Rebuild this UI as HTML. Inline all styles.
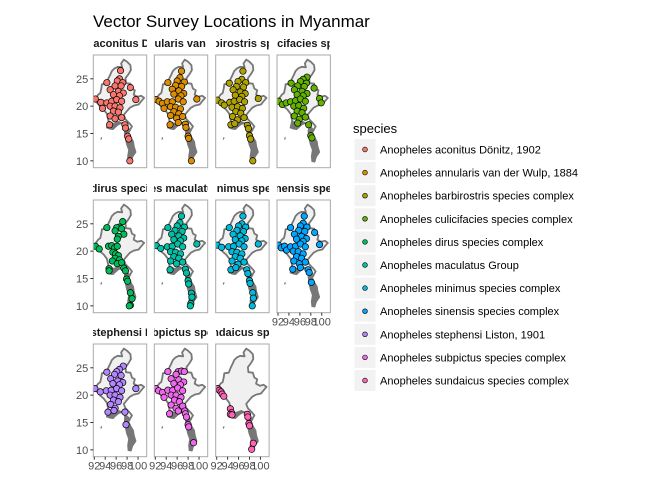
<!DOCTYPE html>
<html><head><meta charset="utf-8"><style>
body{margin:0;background:#fff;}
svg{display:block;font-family:"Liberation Sans",Arial,sans-serif;}
</style></head><body>
<svg id="chart" width="672" height="480" viewBox="0 0 672 480" xmlns="http://www.w3.org/2000/svg">
<text x="93" y="27" font-size="17" fill="#000">Vector Survey Locations in Myanmar</text>
<g id="panels"></g>
<g id="legend"></g>
</svg>
<script>
const speciesNames = ["Anopheles aconitus Dönitz, 1902","Anopheles annularis van der Wulp, 1884","Anopheles barbirostris species complex","Anopheles culicifacies species complex","Anopheles dirus species complex","Anopheles maculatus Group","Anopheles minimus species complex","Anopheles sinensis species complex","Anopheles stephensi Liston, 1901","Anopheles subpictus species complex","Anopheles sundaicus species complex"];
const speciesColors = ["#F8766D","#DB8E00","#AEA200","#64B200","#00BD5C","#00C1A7","#00BADE","#00A6FF","#B385FF","#EF67EB","#FF63B6"];
const yTicks = [10,15,20,25];
const xTicks = [92,94,96,98,100];
const aconitus = [[96.8,26.5],[94.3,24.3],[96.6,25],[96.2,24.6],[97.2,24.3],[95.8,23.7],[96.9,23.7],[98.6,23.4],[94.9,23],[96.4,22.7],[97.3,22.4],[95.5,22.1],[96.6,21.9],[99.6,21.2],[92.2,21.3],[93.2,20.7],[94.3,20.6],[95.2,20.9],[96.1,21.2],[97,20.9],[93.5,19.6],[94.9,20],[95.8,20],[96.7,19.7],[95.5,19.1],[96.4,18.9],[94.9,18.2],[95.8,17.7],[97,17.9],[94.8,16.6],[97.6,16.6],[97.7,16],[98.1,14.5],[98.3,14],[98.5,10]];
const annularis = [[96.8,26.4],[94.3,24.3],[96.5,25.2],[96,24.6],[97.3,24.4],[95.7,23.8],[96.8,23.6],[95.1,23.1],[96.3,22.8],[97.2,22.3],[95.4,22.2],[96.7,21.9],[99.6,21.3],[92.1,21.2],[92.7,20.9],[93.3,20.5],[94.2,20.8],[95.1,20.8],[96.2,21.3],[97.1,20.8],[93.6,19.6],[94.8,19.9],[95.7,19.8],[96.6,19.5],[95.4,19],[96.3,18.6],[94.8,18.3],[95.9,17.8],[97,18.1],[94.7,16.6],[96.2,17],[97.5,16.7],[97.6,16.1],[98,14.5],[98.1,14.1],[98.6,10]];
const barbirostris = [[96.8,26.4],[94.3,24.2],[96.6,24.9],[95.9,24.5],[97.3,24.3],[95.6,23.6],[96.9,23.5],[95,23],[96.3,22.6],[97.2,22.3],[95.4,22],[96.6,21.8],[99.6,21.4],[92.1,21.1],[92.9,20.6],[93.4,20.2],[94.4,20.7],[95.2,20.9],[96.2,21.2],[97.1,20.8],[94.8,19.8],[95.8,19.9],[96.7,19.6],[95.5,19],[96.4,18.7],[94.9,18.1],[95.8,17.5],[97,17.9],[94.6,16.6],[95.3,16.8],[97.6,16.5],[97.8,15.9],[98,14.6],[98.2,14],[98.6,10]];
const culicifacies = [[97.3,25.3],[94.4,24.2],[96.6,24.9],[96.1,24.5],[97.2,24.2],[95.6,23.7],[96.8,23.6],[95,23],[96.4,22.7],[97.3,22.3],[98.6,23.3],[95.5,22.1],[96.6,21.9],[99.6,21.4],[99.9,20.6],[92.1,20.9],[92.8,20.3],[93.5,20.6],[94.3,20.8],[95.2,21],[96.1,21.3],[97,20.9],[94.9,20],[95.8,20.1],[96.7,19.6],[95.5,19.1],[96.4,18.8],[95,18.2],[95.9,17.6],[97,18],[95.6,16.9],[97.6,16.6],[98,14.6],[98.2,14.2]];
const dirus = [[97.2,25.4],[94.3,24.3],[96.6,24.4],[96.1,24.3],[97,24.1],[95.8,23.7],[97.4,23.1],[96.4,22.7],[96.2,22.2],[92.2,20.9],[92.9,20.4],[94.6,20.9],[95.2,21],[95.7,20.6],[96.2,20.9],[95.4,19.8],[95.9,19.5],[96.4,19.2],[95.8,18.7],[96.6,18.4],[95.3,18.2],[96.2,17.7],[97,17.9],[94.7,16.8],[94.7,16.4],[97.4,16.9],[97.7,16.4],[97.9,14.9],[98.1,14.5],[98.6,12.4],[98.9,11.3],[98.6,10.1],[98.4,10]];
const maculatus = [[96.8,26.4],[94.3,24.3],[96.5,25.2],[96,24.6],[97.3,24.4],[95.6,23.8],[96.9,23.6],[95,23.1],[96.3,22.8],[97.2,22.4],[95.4,22.1],[96.6,21.9],[99.6,21.3],[92.2,21],[93,20.5],[94.2,20.8],[95.1,20.9],[96.1,21.3],[97,20.8],[94.8,19.9],[95.7,19.8],[96.6,19.5],[95.4,19],[96.3,18.7],[94.8,18.2],[95.9,17.7],[97,18],[94.7,16.6],[97.5,16.7],[97.7,16],[98,14.6],[98.1,14],[98.6,12.3],[98.7,11.6],[98.5,10.4],[98.4,10]];
const minimus = [[96.8,26.4],[94.3,24.3],[96.6,25],[96,24.6],[97.3,24.4],[95.7,23.8],[96.9,23.6],[95,23.1],[96.3,22.8],[97.2,22.3],[95.4,22.1],[96.6,21.9],[99.6,21.3],[92.1,21.1],[92.9,20.7],[94.2,20.8],[95.1,20.9],[96.1,21.3],[97,20.8],[94.8,19.9],[95.7,19.8],[96.6,19.5],[95.4,19],[96.3,18.7],[94.8,18.2],[95.9,17.6],[97,18],[94.6,16.6],[95.5,17],[97.5,16.6],[97.7,15.9],[98,14.6],[98.1,14.1],[98.6,12.4],[98.7,11.4],[98.5,10]];
const sinensis = [[96.8,26.4],[94.3,24.3],[96.6,25.1],[96.1,24.6],[97.3,24.4],[95.8,23.8],[96.9,23.6],[98.7,23.4],[95,23.1],[96.3,22.7],[97.2,22.3],[95.4,22.2],[96.6,21.8],[99.6,21.2],[92.1,21.1],[92.6,20.6],[93.2,20.9],[93.6,20.2],[94.3,20.8],[95.2,20.9],[96.1,21.3],[97,20.8],[94.8,20],[95.7,19.9],[96.6,19.5],[95.4,19],[96.3,18.7],[94.9,18.2],[95.9,17.7],[97,18],[94.7,16.7],[96.1,17],[97.5,16.6],[97.7,16.1],[98.1,14.3]];
const stephensi = [[97.3,25.3],[94.3,24.2],[96.6,24.7],[96.1,24.3],[95.7,23.8],[96.9,23.6],[95,23],[96.3,22.6],[97.2,22.3],[95.4,22.1],[96.6,21.9],[99.6,21.2],[92.1,21.2],[93.1,20.6],[94.2,20.8],[95.1,20.9],[96.1,21.2],[97,20.8],[94.9,20],[95.8,20],[96.7,19.6],[95.5,19.1],[96.4,18.8],[95,18.3],[95.8,17.6],[94.5,16.9],[95.6,17.2],[97.6,16.9],[97.8,14.6]];
const subpictus = [[94.3,24.3],[96.2,24.3],[96.8,24.4],[97.3,24.3],[95.8,23.8],[94.9,23],[96.3,22.8],[97.2,22.4],[95.4,22.1],[96.6,21.9],[92.1,21.2],[92.6,20.8],[93.3,20.5],[94.3,20.9],[95.2,20.9],[96.1,21.3],[97,20.8],[93.6,19.6],[94.9,20],[95.8,20],[96.7,19.6],[95.5,19.1],[96.4,18.8],[94.9,18.2],[95.8,17.6],[97,18],[94.6,16.6],[96.2,17.1],[97.4,17.1],[97.5,16.6],[97.7,16],[98,14.6],[98.1,14.2],[99,11.3]];
const sundaicus = [[92.2,21.2],[92.5,20.9],[92.8,20.6],[93,20.2],[93.3,19.8],[94.5,17.5],[94.7,16.8],[94.5,16.5],[94.8,16.4],[97.6,16.5],[97.7,16],[97.9,14.8],[98,14.4],[98.7,11.2],[98.4,10.1]];
const speciesData = [aconitus,annularis,barbirostris,culicifacies,dirus,maculatus,minimus,sinensis,stephensi,subpictus,sundaicus];
const stripNames = speciesNames;

const mapOutline = [[97.4,28.5],[98.0,28.1],[98.6,27.5],[98.7,26.6],[98.3,25.9],[97.7,25.1],[97.8,24.2],[98.6,24.1],[98.9,23.2],[99.4,22.9],[99.2,22.1],[99.9,21.7],[100.6,21.9],[101.1,21.5],[100.6,20.9],[100.1,20.3],[99.2,20.1],[98.5,19.7],[97.8,18.9],[97.4,18.4],[97.7,17.6],[98.4,16.9],[98.9,16.3],[98.5,15.6],[98.2,15.1],[98.6,14.3],[99.1,13.5],[99.2,12.6],[99.5,11.6],[98.9,10.7],[98.7,9.9],[98.3,10.0],[98.6,11.5],[98.4,12.8],[98.0,13.9],[97.7,15.2],[97.6,16.3],[97.1,16.9],[96.4,16.8],[95.4,15.8],[94.8,15.9],[94.3,16.1],[94.6,17.3],[94.3,18.6],[93.7,19.4],[93.1,19.9],[92.6,20.5],[92.2,21.0],[92.3,21.5],[92.7,22.1],[93.1,22.4],[93.3,23.3],[93.4,24.0],[94.2,24.1],[94.6,25.1],[94.9,25.7],[95.2,26.4],[95.7,26.9],[96.3,27.2],[97.1,27.1],[96.9,27.8],[97.4,28.5]];
const deltaShade = [[94.3,16.1],[94.8,15.9],[95.4,15.8],[96.4,16.6],[97.1,16.9],[96.5,17.2],[95.5,16.8],[94.8,17.2],[94.6,17.3]];
const southShade = [[97.7,16.4],[98.2,16.0],[98.6,15.6],[98.3,15.1],[98.7,14.3],[99.1,13.5],[99.3,12.6],[99.6,11.6],[99.0,10.7],[98.7,9.8],[98.2,9.9],[98.1,10.8],[98.3,12.0],[97.9,13.0],[97.6,14.5],[97.5,15.5]];

const NS="http://www.w3.org/2000/svg";
const colLeft=[93.3,154.3,215.7,277], rowTop=[55,200,344], PW=53.4, PH=112.7, K=5.47;
const LON0=91.82, LAT1=29.35;
function mk(tag,attrs,parent){const e=document.createElementNS(NS,tag);for(const k in attrs)e.setAttribute(k,attrs[k]);parent.appendChild(e);return e;}
const panels=document.getElementById('panels');
speciesData.forEach((pts,i)=>{
  const c=i%4, r=Math.floor(i/4), L=colLeft[c], T=rowTop[r];
  const sx=lon=>L+(lon-LON0)*K, sy=lat=>T+(LAT1-lat)*K;
  const poly=arr=>arr.map(p=>sx(p[0]).toFixed(1)+','+sy(p[1]).toFixed(1)).join(' ');
  const g=mk('g',{},panels);
  
  
  const fo=mk('foreignObject',{x:L,y:T-19,width:PW,height:16},g);
  const d=document.createElement('div');
  d.style.cssText='width:'+PW+'px;height:16px;overflow:hidden;display:flex;justify-content:center;align-items:center;white-space:nowrap;font:bold 11px "Liberation Sans",Arial,sans-serif;color:#1a1a1a;';
  const sp=document.createElement('span');sp.style.flex='none';sp.textContent=stripNames[i];d.appendChild(sp);
  fo.appendChild(d);
  
  
  const clipId='clip'+i;
  const cp=mk('clipPath',{id:clipId},g);mk('rect',{x:L,y:T,width:PW,height:PH},cp);
  const inner=mk('g',{'clip-path':'url(#'+clipId+')'},g);
  const map=mk('polygon',{points:poly(mapOutline),fill:'#f0f0f0',stroke:'#777','stroke-width':1.8,'stroke-linejoin':'round'},inner);
  
  
  mk('polygon',{points:poly(deltaShade),fill:'#777',stroke:'#777','stroke-width':1},inner);
  mk('polygon',{points:poly(southShade),fill:'#777',stroke:'#777','stroke-width':1},inner);
  mk('line',{x1:sx(93.35),y1:sy(14.3),x2:sx(93.2),y2:sy(13.9),stroke:'#777','stroke-width':1.2},inner);
  pts.forEach(p=>{
    const cc=mk('circle',{cx:sx(p[0]),cy:sy(p[1]),r:3.2,fill:speciesColors[i],stroke:'#000','stroke-width':0.7},inner);
    
    
  });
  const br=mk('rect',{x:L,y:T,width:PW,height:PH,fill:'none',stroke:'#aaa','stroke-width':1},g);
  
  
  if(c===0){
    yTicks.forEach(v=>{
      mk('line',{x1:L-3,x2:L,y1:sy(v),y2:sy(v),stroke:'#333','stroke-width':1},g);
      const t=mk('text',{x:L-5,y:sy(v)+4,'text-anchor':'end','font-size':11,fill:'#4d4d4d'},g);
      t.textContent=v;
      
      
    });
  }
  if(i+4>=speciesData.length){
    xTicks.forEach(v=>{
      mk('line',{x1:sx(v),x2:sx(v),y1:T+PH,y2:T+PH+3,stroke:'#333','stroke-width':1},g);
      const t=mk('text',{x:sx(v),y:T+PH+13,'text-anchor':'middle','font-size':11,fill:'#4d4d4d'},g);
      t.textContent=v;
      
      
    });
  }
});
const lg=document.getElementById('legend');
const lt=mk('text',{x:353,y:133,'font-size':13,fill:'#000'},lg);
lt.textContent='species';


speciesNames.forEach((n,i)=>{
  const cy=149.5+i*23.1;
  const eg=mk('g',{},lg);
  
  
  mk('rect',{x:354.5,y:cy-10.5,width:21,height:21,fill:'#f2f2f2'},eg);
  mk('circle',{cx:365,cy:cy,r:2.4,fill:speciesColors[i],stroke:'#000','stroke-width':0.6},eg);
  const t=mk('text',{x:380,y:cy+4,'font-size':11,fill:'#000'},eg);
  t.textContent=n;
});
</script>
</body></html>
